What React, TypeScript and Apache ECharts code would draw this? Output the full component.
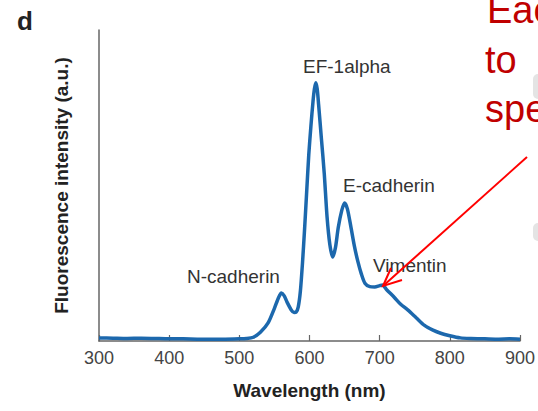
import React, { useEffect, useRef } from "react";
import * as echarts from "echarts";

const wavelengths = [
  300, 320, 340, 360, 380, 400, 420, 440, 460, 480, 500, 510, 520, 530, 541, 550, 556, 560, 564, 568,
  574, 578, 581, 584, 587, 590, 593, 596, 599, 602, 605, 607, 609, 611, 613, 617, 621, 625, 629, 633,
  637, 641, 646, 650, 654, 659, 664, 669, 674, 679, 686, 693, 700, 704, 710, 721, 730, 740, 752, 764,
  776, 787, 800, 815, 830, 850, 870, 885, 900,
];
const intensity = [
  1.0, 0.9, 0.8, 0.9, 0.8, 0.7, 0.7, 0.6, 0.6, 0.6, 0.7, 0.8, 1.2, 2.8, 5.8, 10.5, 14, 15.4, 14.5, 12.5,
  10, 9.2, 9.3, 11, 16, 25, 36, 48, 60, 69, 77, 81, 83, 81, 76, 65, 54, 40, 31, 27,
  30, 36.5, 42, 44.4, 42.5, 36.7, 30.5, 25.5, 21.5, 18.6, 17.5, 17.4, 17.8, 18, 16.5, 14, 11.8, 10, 7.5, 5,
  3.5, 2.5, 1.7, 1.0, 0.8, 0.7, 0.6, 0.7, 0.6,
];
const xTickValues = [300, 400, 500, 600, 700, 800, 900];
const peakLabels = ["EF-1alpha", "E-cadherin", "N-cadherin", "Vimentin"];
const noteLines = ["Eac", "to", "spe"];

export default function App() {
  const ref = useRef<HTMLDivElement>(null);
  useEffect(() => {
    const chart = echarts.init(ref.current!, null, { renderer: "svg" });
    const font = "'Liberation Sans', Arial, sans-serif";
    const labelPos = [
      [303, 66],
      [343, 185],
      [187, 276],
      [373, 265],
    ];
    const notePos = [
      [487, 10],
      [485, 60],
      [485, 109],
    ];
    chart.setOption({
      animation: false,
      backgroundColor: "#ffffff",
      grid: { left: 99, right: 15, top: 30, bottom: 70 },
      xAxis: {
        type: "value",
        min: xTickValues[0],
        max: xTickValues[xTickValues.length - 1],
        interval: 100,
        name: "Wavelength (nm)",
        nameLocation: "middle",
        nameGap: 40,
        nameTextStyle: { fontFamily: font, fontWeight: "bold", fontSize: 19, color: "#222" },
        axisLine: { show: true, lineStyle: { color: "#666", width: 1.5 } },
        axisTick: { show: true, inside: true, length: 6, lineStyle: { color: "#666", width: 1.2 } },
        axisLabel: { fontFamily: font, fontSize: 18, color: "#444", margin: 8 },
        splitLine: { show: false },
      },
      yAxis: {
        type: "value",
        min: 0,
        max: 100,
        name: "Fluorescence intensity (a.u.)",
        nameLocation: "middle",
        nameGap: 28,
        nameTextStyle: { fontFamily: font, fontWeight: "bold", fontSize: 19, color: "#222" },
        axisLine: { show: true, lineStyle: { color: "#666", width: 1.5 } },
        axisTick: { show: false },
        axisLabel: { show: false },
        splitLine: { show: false },
      },
      series: [
        {
          type: "line",
          data: wavelengths.map((w, i) => [w, intensity[i]]),
          showSymbol: false,
          smooth: 0.25,
          lineStyle: { color: "#1c68ad", width: 3.5 },
          z: 3,
        },
      ],
      graphic: [
        {
          type: "text",
          x: 17,
          y: 8,
          style: { text: "d", font: `bold 26px ${font}`, fill: "#222" },
        },
        ...peakLabels.map((t, i) => ({
          type: "text",
          x: labelPos[i][0],
          y: labelPos[i][1],
          style: { text: t, font: `19px ${font}`, fill: "#333", verticalAlign: "middle" },
        })),
        ...noteLines.map((t, i) => ({
          type: "text",
          x: notePos[i][0],
          y: notePos[i][1],
          style: { text: t, font: `38px ${font}`, fill: "#c00000", verticalAlign: "middle" },
        })),
        {
          type: "rect",
          shape: { x: 533, y: 74, width: 12, height: 25, r: 5 },
          style: { fill: "#e4e4e4" },
        },
        {
          type: "rect",
          shape: { x: 533, y: 223, width: 12, height: 18, r: 5 },
          style: { fill: "#e4e4e4" },
        },
        {
          type: "line",
          shape: { x1: 527, y1: 157, x2: 383, y2: 286 },
          style: { stroke: "#ff0000", lineWidth: 2 },
          z: 10,
        },
        {
          type: "polyline",
          shape: { points: [[402, 280], [383, 286], [391, 268]] },
          style: { stroke: "#ff0000", lineWidth: 2, fill: null },
          z: 10,
        },
      ],
    });
    return () => chart.dispose();
  }, []);
  return (
    <div
      ref={ref}
      style={{ position: "fixed", left: 0, top: 0, width: 538, height: 411, background: "#fff" }}
    />
  );
}
